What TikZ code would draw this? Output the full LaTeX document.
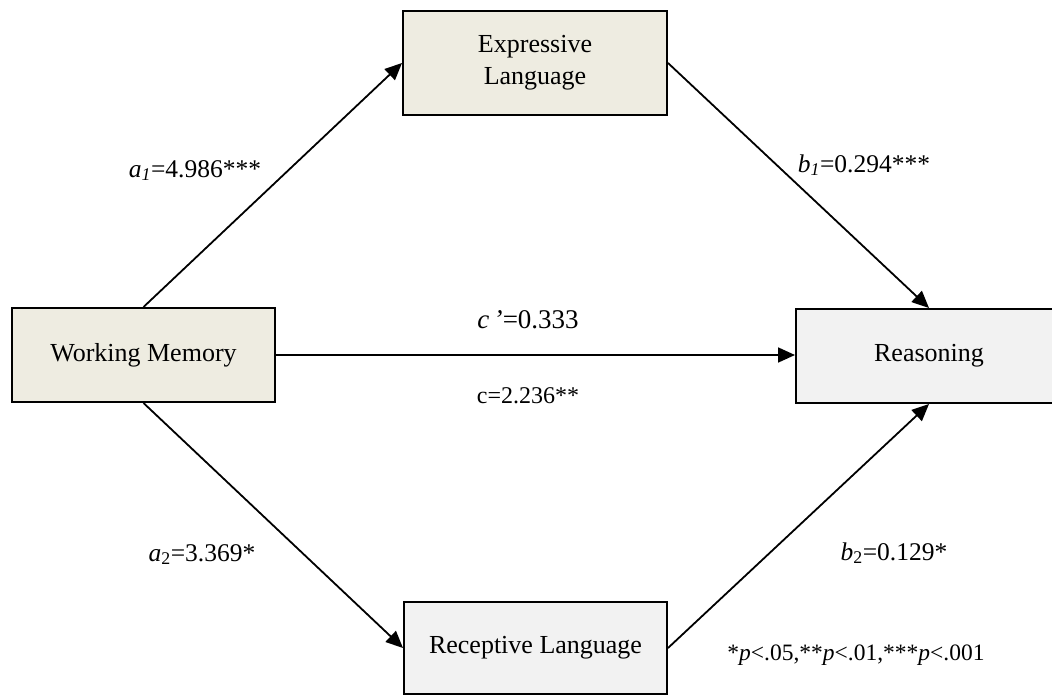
\documentclass[tikz,border=0pt]{standalone}
\usepackage{fontspec}
\setmainfont{Liberation Serif}
\usetikzlibrary{arrows.meta}
\definecolor{beige}{HTML}{EEECE1}
\definecolor{lgray}{HTML}{F2F2F2}
\begin{document}
\begin{tikzpicture}[x=1pt,y=-1pt,
  box/.style={draw=black, line width=2pt, rectangle, inner sep=0pt, font=\fontsize{26}{32}\selectfont, align=center},
  arr/.style={line width=1.8pt, -{Triangle[length=17pt,width=15pt]}},
  lbl/.style={font=\fontsize{25.5}{30}\selectfont, inner sep=0pt, anchor=base}]
\useasboundingbox (0,0) rectangle (1052,696);
\clip (0,0) rectangle (1052,696);
\node[box, fill=beige, minimum width=264pt, minimum height=104pt] (EL) at (535,63) {Expressive\\Language};
\node[box, fill=beige, minimum width=263pt, minimum height=94pt] (WM) at (143.5,355) {Working Memory};
\node[box, fill=lgray, minimum width=266pt, minimum height=94pt] (R) at (929,356) {Reasoning};
\node[box, fill=lgray, minimum width=263pt, minimum height=92pt] (RL) at (535.5,648) {Receptive Language};
\draw[arr] (WM.north) -- (EL.west);
\draw[arr] (EL.east) -- (R.north);
\draw[arr] (WM.south) -- (RL.west);
\draw[arr] (RL.east) -- (R.south);
\draw[arr] (WM.east) -- (WM.east -| R.west);
\node[lbl] (la1) at (195,177) {\textit{a}\textsubscript{\textit{1}}=4.986***};
\node[lbl] (lb1) at (864,172) {\textit{b}\textsubscript{\textit{1}}=0.294***};
\node[lbl, font=\fontsize{27}{32}\selectfont] (lcp) at (528,328) {\textit{c\,’}=0.333};
\node[lbl, font=\fontsize{24}{28}\selectfont] (lc) at (528,403) {c=2.236**};
\node[lbl] (la2) at (202,561) {\textit{a}\textsubscript{2}=3.369*};
\node[lbl] (lb2) at (894,560) {\textit{b}\textsubscript{2}=0.129*};
\node[lbl, font=\fontsize{23.5}{28}\selectfont] (note) at (856,660) {*\textit{p}<.05,**\textit{p}<.01,***\textit{p}<.001};
\end{tikzpicture}
\end{document}
